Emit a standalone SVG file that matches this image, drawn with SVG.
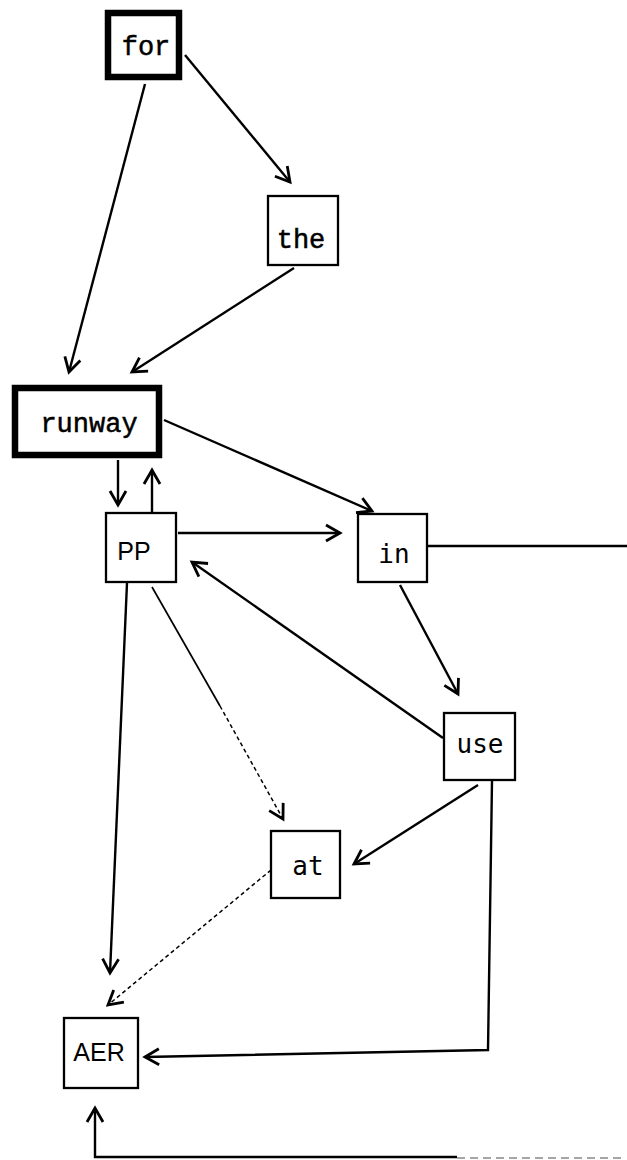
<svg xmlns="http://www.w3.org/2000/svg" width="627" height="1160" viewBox="0 0 627 1160">
  <style>
    .box { fill: #ffffff; stroke: #000000; stroke-width: 2.3; }
    .thick { fill: #ffffff; stroke: #000000; stroke-width: 6.5; }
    .mono { font-family: "Liberation Mono", "DejaVu Sans Mono", monospace; font-size: 27px; fill: #000000; stroke: #000000; stroke-width: 0.5; text-anchor: middle; }
    .smono { font-family: "DejaVu Sans Mono", "Liberation Mono", monospace; font-size: 26px; fill: #000000; text-anchor: middle; }
    .sans { font-family: "Liberation Sans", "DejaVu Sans", sans-serif; font-size: 25px; fill: #000000; text-anchor: middle; }
    .edge { fill: none; stroke: #000000; stroke-width: 2.4; stroke-linejoin: miter; }
    .thin { fill: none; stroke: #000000; stroke-width: 1.7; }
    .dash { fill: none; stroke: #000000; stroke-width: 1.5; stroke-dasharray: 4 3; }
    .faint { fill: none; stroke: #888888; stroke-width: 1.6; stroke-dasharray: 8 5; }
  </style>
  <defs>
    <marker id="arr" viewBox="-18 -10 22 20" refX="0" refY="0" markerWidth="22" markerHeight="20" markerUnits="userSpaceOnUse" orient="auto" overflow="visible">
      <path d="M-14,-8 L0,0 L-14,8" fill="none" stroke="#000000" stroke-width="2.8" stroke-linejoin="miter"/>
    </marker>
  </defs>
  <rect width="627" height="1160" fill="#ffffff"/>

  <g id="connectors">
    <line class="edge" x1="185" y1="55" x2="290" y2="182" marker-end="url(#arr)"/>
    <line class="edge" x1="145" y1="84" x2="69" y2="372" marker-end="url(#arr)"/>
    <line class="edge" x1="294" y1="268" x2="132" y2="372" marker-end="url(#arr)"/>
    <line class="edge" x1="164" y1="420" x2="372" y2="511" marker-end="url(#arr)"/>
    <line class="edge" x1="118" y1="460" x2="118" y2="505" marker-end="url(#arr)"/>
    <line class="edge" x1="152" y1="512" x2="152" y2="470" marker-end="url(#arr)"/>
    <line class="edge" x1="178" y1="533" x2="340" y2="533" marker-end="url(#arr)"/>
    <line class="edge" x1="427" y1="546" x2="627" y2="546"/>
    <line class="edge" x1="400" y1="585" x2="458" y2="694" marker-end="url(#arr)"/>
    <line class="edge" x1="443" y1="738" x2="192" y2="562" marker-end="url(#arr)"/>
    <line class="thin" x1="152" y1="587" x2="220" y2="706"/>
    <line class="dash" x1="220" y1="706" x2="283" y2="819" marker-end="url(#arr)"/>
    <line class="edge" x1="478" y1="785" x2="354" y2="864" marker-end="url(#arr)"/>
    <line class="edge" x1="127" y1="583" x2="110" y2="973" marker-end="url(#arr)"/>
    <line class="dash" x1="271" y1="870" x2="108" y2="1005" marker-end="url(#arr)"/>
    <polyline class="edge" points="492,781 488,1050 145,1057" marker-end="url(#arr)"/>
    <polyline class="edge" points="457,1157 95,1157 95,1108" marker-end="url(#arr)"/>
    <line class="faint" x1="457" y1="1158" x2="622" y2="1158"/>
  </g>

  <g id="node-for">
    <rect class="thick" x="108" y="13" width="71" height="64"/>
    <text class="mono" x="146" y="55">for</text>
  </g>
  <g id="node-the">
    <rect class="box" x="268" y="196" width="70" height="69"/>
    <text class="mono" x="301" y="248">the</text>
  </g>
  <g id="node-runway">
    <rect class="thick" x="15" y="388" width="144" height="67"/>
    <text class="mono" x="89" y="432">runway</text>
  </g>
  <g id="node-PP">
    <rect class="box" x="106" y="513" width="70" height="69"/>
    <text class="sans" x="134" y="560">PP</text>
  </g>
  <g id="node-in">
    <rect class="box" x="358" y="514" width="69" height="68"/>
    <text class="smono" x="394" y="563">in</text>
  </g>
  <g id="node-use">
    <rect class="box" x="444" y="713" width="71" height="67"/>
    <text class="smono" x="480" y="753">use</text>
  </g>
  <g id="node-at">
    <rect class="box" x="271" y="831" width="69" height="67"/>
    <text class="smono" x="308" y="875">at</text>
  </g>
  <g id="node-AER">
    <rect class="box" x="64" y="1018" width="74" height="70"/>
    <text class="sans" x="99" y="1061">AER</text>
  </g>
</svg>
